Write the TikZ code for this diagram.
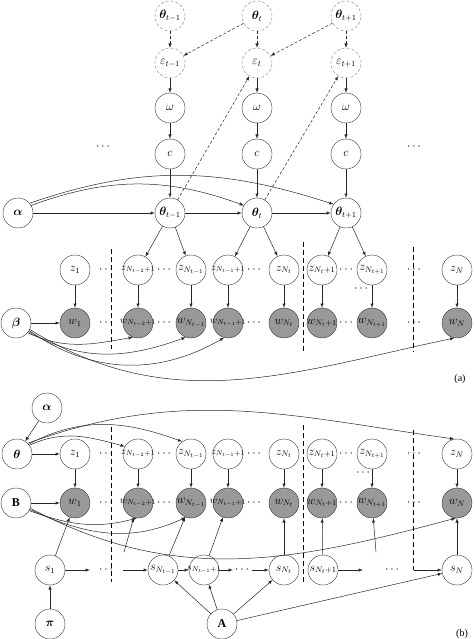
\documentclass[tikz,border=0pt]{standalone}
\usepackage{amsmath,bm}
\usepackage{fontspec}
\setmainfont{Liberation Serif}
\usetikzlibrary{positioning,arrows}

\newcommand{\fit}[1]{\makebox[20pt][c]{$#1$}}

\tikzset{
  var/.style={draw=black!80,circle,minimum size=30pt,inner sep=0pt,font=\large},
  obs/.style={var,fill=black!40},
  hid/.style={var,draw=gray,densely dashed},
  edge/.style={->,>=latex,draw=black!85,line width=0.5pt},
  hedge/.style={edge,densely dashed},
  sep/.style={dash pattern=on 5pt off 3pt,semithick},
  dots/.style={inner sep=0pt,font=\large}
}

\begin{document}
\begin{tikzpicture}[x=1pt,y=-1pt]
\useasboundingbox (0,0) rectangle (474,639);

% (a) slices t-1, t, t+1
\foreach \i/\x/\ts in {1/170/{t-1},2/257/{t},3/346/{t+1}}{
	\node[hid] (th\i) at (\x,16) {\fit{\bm{\theta}_{\ts}}};
	\node[hid] (e\i) at (\x,63) {\fit{\varepsilon_{\ts}}};
	\node[var] (om\i) at (\x,108) {$\omega$};
	\node[var] (c\i) at (\x,154) {$c$};
	\node[var] (T\i) at (\x,213) {\fit{\bm{\theta}_{\ts}}};
	\draw[hedge] (th\i) -- (e\i);
	\draw[edge] (e\i) -- (om\i);
	\draw[edge] (om\i) -- (c\i);
	\draw[edge] (c\i) -- (T\i);
}
\foreach \x/\y in {2/1,3/2}
	\draw[hedge] (th\x) -- (e\y);
\foreach \x/\y in {1/2,2/3}
	\draw[hedge] (T\x) -- (e\y);
\draw[edge] (T1) -- (T2);
\draw[edge] (T2) -- (T3);
\node[dots] (d1) at (104,147) {$\cdots$};
\node[dots] (d2) at (415,147) {$\cdots$};

\node[var] (al) at (18,213) {$\bm{\alpha}$};
\node[var] (be) at (16,323) {$\bm{\beta}$};
\draw[edge] (al) -- (T1);
\draw[edge] (al.30) to[out=20,in=160] (T2.150);
\draw[edge] (al.40) to[out=19,in=162] (T3.145);

% words, (a) and (b)
\foreach \i/\x/\l/\f in {1/75/{1}/\large,2/138/{N_{t-2}+1}/\normalsize,3/191/{N_{t-1}}/\large,4/228/{N_{t-1}+1}/\normalsize,5/284/{N_t}/\large,6/322/{N_t+1}/\large,7/372/{N_{t+1}}/\large,8/457/{N}/\large}{
	\node[var,font=\f] (z\i) at (\x,270) {\fit{z_{\l}}};
	\node[obs,font=\f] (w\i) at (\x,323) {\fit{w_{\l}}};
	\draw[edge] (z\i) -- (w\i);
	\node[var,font=\f] (bz\i) at (\x,454) {\fit{z_{\l}}};
	\node[obs,font=\f] (bw\i) at (\x,503) {\fit{w_{\l}}};
	\draw[edge] (bz\i) -- (bw\i);
}
\foreach \x/\y in {1/2,1/3,2/4,2/5,3/6,3/7}
	\draw[edge] (T\x) -- (z\y);
\draw[edge] (be) -- (w1);
\draw[edge] (be.-40) to[out=-25,in=190] (w2.-110);
\draw[edge] (be.-35) to[out=-30,in=200] (w3.-110);
\draw[edge] (be.-30) to[out=-35,in=210] (w4.-105);
\draw[edge] (be.-25) to[out=-32,in=192] (w8.-100);

% dots between the words
\foreach \y in {270,323,454,503}
	\foreach \x in {107,165,255,347,415}
		\node[dots] (p\x\y) at (\x,\y) {$\cdots$};
\node[dots] (q1) at (362,289) {$\cdots$};
\node[dots] (q2) at (364,473) {$\cdots$};

% document borders
\draw[sep] (111,249) -- (111,349);
\draw[sep] (303,242) -- (303,353);
\draw[sep] (413,247) -- (413,352);
\draw[sep] (111,427) -- (111,582);
\draw[sep] (303,425) -- (303,582);
\draw[sep] (413,430) -- (413,570);

\node (la) at (460,379) {(a)};

% (b)
\node[var] (ba) at (47,408) {$\bm{\alpha}$};
\node[var] (bth) at (17,454) {$\bm{\theta}$};
\node[var] (B) at (16,503) {$\mathbf{B}$};
\node[var] (pi) at (50,624) {$\bm{\pi}$};
\node[var] (A) at (222,624) {$\mathbf{A}$};
\foreach \i/\x/\l/\f in {1/50/{1}/\large,2/163/{N_{t-1}}/\large,3/204/{N_{t-1}+1}/\normalsize,4/284/{N_t}/\large,5/323/{N_t+1}/\large,6/457/{N}/\large}
	\node[var,font=\f] (s\i) at (\x,570) {\fit{s_{\l}}};
\draw[edge] (ba) -- (bth);
\draw[edge] (bth) -- (bz1);
\draw[edge] (bth.35) to[out=25,in=165] (bz2.150);
\draw[edge] (bth.40) to[out=28,in=160] (bz3.125);
\draw[edge] (bth.45) to[out=20,in=172] (bz8.100);
\draw[edge] (B) -- (bw1);
\draw[edge] (B.-30) to[out=-20,in=195] (bw2.-95);
\draw[edge] (B.-25) to[out=-25,in=205] (bw3.-110);
\draw[edge] (B.-20) to[out=-28,in=195] (bw8.-95);

\foreach \x/\y in {1/1,2/3,3/4,4/5,5/6,6/8}
	\draw[edge] (s\x) -- (bw\y);
\coordinate (f1) at (124,552);
\coordinate (f2) at (376,552);
\draw[edge] (f1) -- (bw2);
\draw[edge] (f2) -- (bw7);

\coordinate (g1) at (90,570);
\coordinate (g2) at (123,570);
\coordinate (g3) at (233,570);
\coordinate (g4) at (252,570);
\coordinate (g5) at (363,570);
\coordinate (g6) at (414,570);
\foreach \x/\y in {s1/g1,g2/s2,s2/s3,s3/g3,g4/s4,s5/g5,g6/s6}
	\draw[edge] (\x) -- (\y);
\node[dots] (r1) at (107,570) {$\cdots$};
\node[dots] (r2) at (243,570) {$\cdots$};
\node[dots] (r3) at (393,570) {$\cdots$};

\draw[edge] (pi) -- (s1);
\foreach \y in {2,3,4,6}
	\draw[edge] (A) -- (s\y);

\node (lb) at (462,634) {(b)};
\end{tikzpicture}
\end{document}
